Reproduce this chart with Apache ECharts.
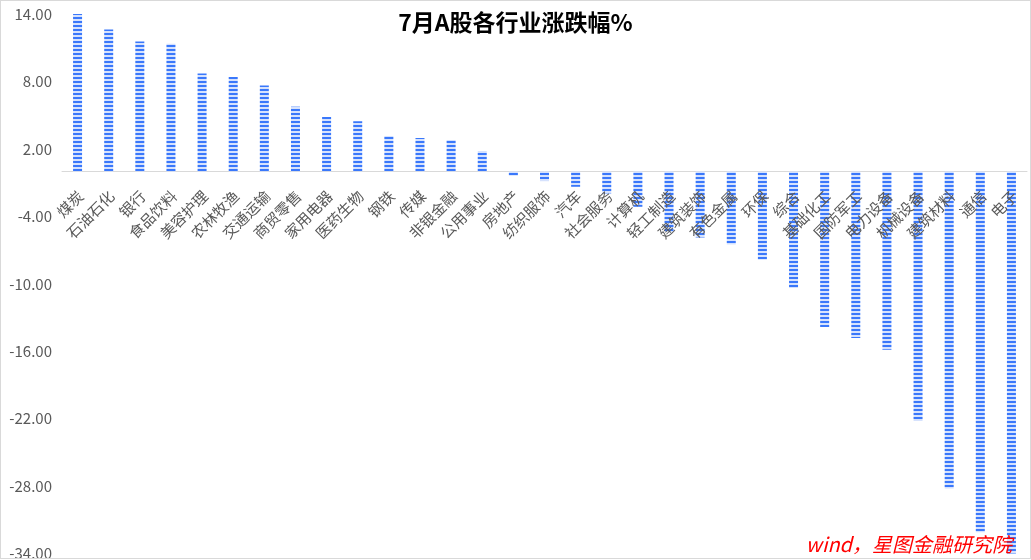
<!DOCTYPE html>
<html>
<head>
<meta charset="utf-8">
<script src="https://cdn.jsdelivr.net/npm/echarts@6/dist/echarts.min.js"></script>
<style>
  html, body { margin: 0; padding: 0; background: #fff; }
  #chart { position: absolute; left: 0; top: 0; width: 1029px; height: 557px; border: 1px solid #d9d9d9; }
</style>
</head>
<body>
<div id="chart"></div>
<script>
const categories = ['煤炭', '石油石化', '银行', '食品饮料', '美容护理', '农林牧渔', '交通运输', '商贸零售',
    '家用电器', '医药生物', '钢铁', '传媒', '非银金融', '公用事业', '房地产', '纺织服饰', '汽车', '社会服务',
    '计算机', '轻工制造', '建筑装饰', '有色金属', '环保', '综合', '基础化工', '国防军工', '电力设备',
    '机械设备', '建筑材料', '通信', '电子'];
const changes = [14.0, 12.62, 11.55, 11.35, 8.70, 8.40, 7.63, 5.76,
    4.84, 4.46, 3.15, 2.97, 2.79, 1.81, -0.39, -0.86, -1.37, -1.96,
    -3.15, -5.38, -5.88, -6.50, -7.85, -10.38, -13.85, -14.83, -15.86,
    -22.2, -28.2, -32.1, -34.0];
const yTicks = [-34, -28, -22, -16, -10, -4, 2, 8, 14];
const yMin = -34;
const yMax = 14;

// horizontal stripe fill like the excel pattern
function stripePattern() {
    const c = document.createElement('canvas');
    c.width = 4;
    c.height = 4;
    const ctx = c.getContext('2d');
    ctx.fillStyle = '#d6e2fd';
    ctx.fillRect(0, 0, 4, 4);
    ctx.fillStyle = '#3a78fb';
    ctx.fillRect(0, 0, 4, 2);
    return c;
}

const el = document.getElementById('chart');
const chart = echarts.init(el);
const font = '"Noto Sans CJK SC", "Microsoft YaHei", sans-serif';

// plot box, and where the zero line falls, so the label grid can end there
const plotTop = 13;
const plotBottom = 4.4;
const plotHeight = el.clientHeight - plotTop - plotBottom;
const zeroOffset = plotHeight * yMax / (yMax - yMin);

var option = {
    animation: false,
    title: {
        text: '7月A股各行业涨跌幅%',
        left: 'center',
        top: 5,
        textStyle: { fontSize: 23, fontWeight: 'bold', color: '#000', fontFamily: font }
    },
    grid: [
        { left: 61, right: 3, top: plotTop, bottom: plotBottom, outerBoundsMode: 'none' },
        // only carries the category labels, bottom edge sits on zero (nudged right a bit)
        { left: 64, right: 0, top: plotTop, height: zeroOffset, outerBoundsMode: 'none' }
    ],
    xAxis: [{
        type: 'category',
        data: categories,
        gridIndex: 0,
        axisLine: { onZero: true, lineStyle: { color: '#d9d9d9', width: 1 } },
        axisTick: { show: false },
        axisLabel: { show: false }
    }, {
        type: 'category',
        data: categories,
        gridIndex: 1,
        z: 5,
        axisLine: { show: false },
        axisTick: { show: false },
        axisLabel: { interval: 0, rotate: 45, fontSize: 15, color: '#595959', margin: 22, fontFamily: font }
    }],
    yAxis: [{
        type: 'value',
        gridIndex: 0,
        min: yMin,
        max: yMax,
        interval: 2,
        splitLine: { show: false },
        axisLine: { show: false },
        axisTick: { show: false },
        axisLabel: {
            fontSize: 15,
            color: '#595959',
            margin: 10,
            fontFamily: font,
            formatter: v => yTicks.indexOf(v) >= 0 ? v.toFixed(2) : ''
        }
    }, {
        type: 'value',
        gridIndex: 1,
        show: false
    }],
    series: [{
        type: 'bar',
        data: changes,
        barWidth: 9,
        itemStyle: { color: { image: stripePattern(), repeat: 'repeat' } }
    }],
    graphic: [{
        type: 'text',
        right: 18,
        bottom: 4,
        z: 10,
        style: {
            text: 'wind，星图金融研究院',
            fill: '#ff0000',
            fontSize: 20,
            fontStyle: 'italic',
            fontFamily: font
        }
    }]
};

option && chart.setOption(option);
</script>
</body>
</html>
